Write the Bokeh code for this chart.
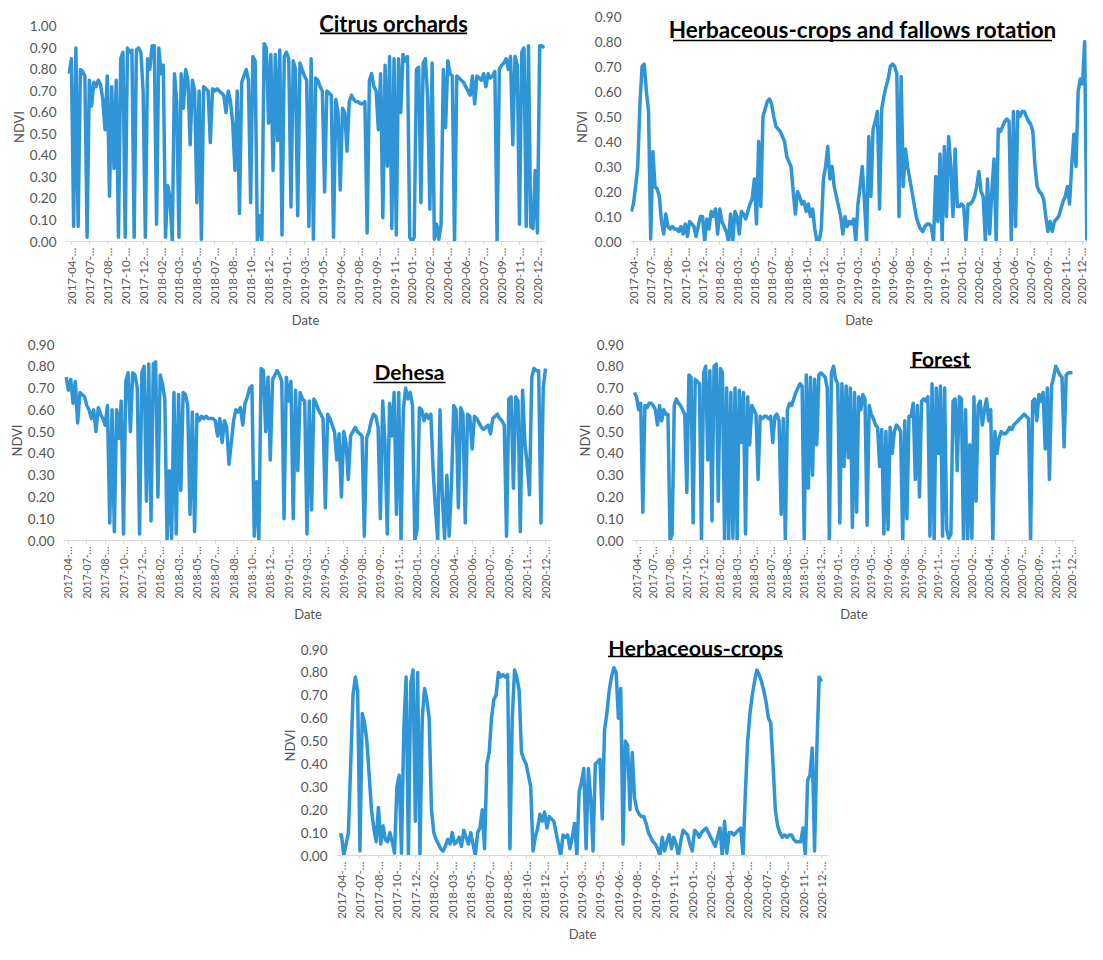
import numpy as np
from bokeh.plotting import figure
from bokeh.layouts import column, row, Spacer
from bokeh.models import FixedTicker, Label, BoxAnnotation, NumeralTickFormatter, Range1d
from bokeh.embed import file_html
from bokeh.resources import INLINE

# ---------------- data ----------------
tick_labels = [
    "2017-04-…", "2017-07-…", "2017-08-…", "2017-10-…", "2017-12-…",
    "2018-02-…", "2018-03-…", "2018-05-…", "2018-07-…", "2018-08-…",
    "2018-10-…", "2018-12-…", "2019-01-…", "2019-03-…", "2019-05-…",
    "2019-06-…", "2019-08-…", "2019-09-…", "2019-11-…", "2020-01-…",
    "2020-02-…", "2020-04-…", "2020-06-…", "2020-07-…", "2020-09-…",
    "2020-11-…", "2020-12-…",
]

citrus_ndvi = [
    0.78,
    0.85, 0.07, 0.90, 0.07, 0.80, 0.79, 0.77, 0.02,
    0.75, 0.63, 0.74, 0.72, 0.75, 0.73, 0.66, 0.52,
    0.77, 0.21, 0.72, 0.34, 0.75, 0.02, 0.85, 0.88,
    0.02, 0.90, 0.88, 0.89, 0.02, 0.89, 0.90, 0.88,
    0.70, 0.02, 0.85, 0.80, 0.91, 0.91, 0.08, 0.90,
    0.78, 0.82, 0.02, 0.26, 0.20, 0.00, 0.78, 0.65,
    0.02, 0.78, 0.62, 0.80, 0.75, 0.45, 0.75, 0.70,
    0.18, 0.70, 0.01, 0.72, 0.71, 0.70, 0.46, 0.71,
    0.70, 0.71, 0.70, 0.69, 0.68, 0.60, 0.70, 0.65,
    0.55, 0.33, 0.70, 0.13, 0.74, 0.77, 0.80, 0.75,
    0.18, 0.86, 0.84, 0.00, 0.12, 0.00, 0.92, 0.90,
    0.55, 0.87, 0.33, 0.87, 0.47, 0.89, 0.03, 0.86,
    0.88, 0.85, 0.16, 0.84, 0.80, 0.12, 0.83, 0.80,
    0.77, 0.75, 0.07, 0.85, 0.01, 0.76, 0.75, 0.72,
    0.70, 0.23, 0.70, 0.69, 0.68, 0.02, 0.66, 0.60,
    0.24, 0.62, 0.60, 0.42, 0.65, 0.68, 0.66, 0.65,
    0.65, 0.64, 0.64, 0.65, 0.04, 0.75, 0.78, 0.72,
    0.70, 0.52, 0.78, 0.11, 0.82, 0.35, 0.86, 0.06,
    0.85, 0.03, 0.85, 0.60, 0.87, 0.84, 0.86, 0.02,
    0.00, 0.02, 0.80, 0.81, 0.18, 0.83, 0.85, 0.67,
    0.15, 0.83, 0.01, 0.08, 0.01, 0.08, 0.80, 0.53,
    0.84, 0.78, 0.77, 0.00, 0.77, 0.76, 0.75, 0.74,
    0.72, 0.70, 0.68, 0.77, 0.64, 0.77, 0.76, 0.75,
    0.78, 0.72, 0.78, 0.76, 0.77, 0.79, 0.00, 0.80,
    0.82, 0.83, 0.85, 0.80, 0.86, 0.45, 0.86, 0.82,
    0.08, 0.88, 0.90, 0.07, 0.91, 0.07, 0.06, 0.33,
    0.04, 0.91, 0.91, 0.90,
]

fallow_ndvi = [
    0.12,
    0.15, 0.22, 0.30, 0.55, 0.70, 0.71, 0.60, 0.52,
    0.01, 0.36, 0.22, 0.21, 0.18, 0.08, 0.03, 0.11,
    0.06, 0.05, 0.06, 0.05, 0.05, 0.04, 0.06, 0.03,
    0.07, 0.02, 0.08, 0.07, 0.06, 0.02, 0.06, 0.10,
    0.10, 0.00, 0.09, 0.05, 0.12, 0.10, 0.13, 0.03,
    0.13, 0.08, 0.06, 0.04, 0.00, 0.11, 0.00, 0.12,
    0.10, 0.03, 0.12, 0.11, 0.09, 0.12, 0.15, 0.17,
    0.25, 0.07, 0.40, 0.14, 0.50, 0.53, 0.56, 0.57,
    0.55, 0.50, 0.46, 0.45, 0.44, 0.42, 0.40, 0.34,
    0.32, 0.30, 0.20, 0.11, 0.20, 0.18, 0.15, 0.16,
    0.12, 0.15, 0.10, 0.13, 0.05, 0.00, 0.00, 0.05,
    0.25, 0.30, 0.38, 0.25, 0.30, 0.22, 0.18, 0.14,
    0.10, 0.03, 0.10, 0.06, 0.08, 0.07, 0.09, 0.00,
    0.15, 0.22, 0.30, 0.16, 0.00, 0.42, 0.18, 0.45,
    0.48, 0.52, 0.13, 0.53, 0.58, 0.62, 0.65, 0.70,
    0.71, 0.70, 0.67, 0.10, 0.66, 0.22, 0.37, 0.30,
    0.25, 0.20, 0.15, 0.10, 0.07, 0.05, 0.04, 0.06,
    0.07, 0.07, 0.06, 0.00, 0.26, 0.08, 0.35, 0.00,
    0.38, 0.10, 0.42, 0.30, 0.10, 0.37, 0.14, 0.14,
    0.15, 0.14, 0.00, 0.15, 0.15, 0.16, 0.18, 0.22,
    0.28, 0.20, 0.18, 0.00, 0.25, 0.03, 0.20, 0.33,
    0.00, 0.45, 0.44, 0.46, 0.48, 0.49, 0.48, 0.00,
    0.52, 0.06, 0.52, 0.50, 0.52, 0.52, 0.50, 0.48,
    0.47, 0.44, 0.30, 0.22, 0.20, 0.19, 0.17, 0.10,
    0.04, 0.08, 0.04, 0.08, 0.09, 0.10, 0.13, 0.16,
    0.18, 0.22, 0.15, 0.30, 0.43, 0.30, 0.60, 0.65,
    0.63, 0.80, 0.01, 0.02,
]

dehesa_ndvi = [
    0.75,
    0.69, 0.74, 0.63, 0.73, 0.54, 0.68, 0.67, 0.66,
    0.62, 0.60, 0.56, 0.60, 0.50, 0.61, 0.58, 0.56,
    0.53, 0.62, 0.08, 0.60, 0.04, 0.60, 0.47, 0.64,
    0.03, 0.73, 0.77, 0.50, 0.77, 0.76, 0.70, 0.03,
    0.77, 0.80, 0.18, 0.81, 0.09, 0.81, 0.82, 0.20,
    0.76, 0.72, 0.65, 0.00, 0.32, 0.01, 0.68, 0.03,
    0.67, 0.23, 0.68, 0.67, 0.62, 0.12, 0.59, 0.04,
    0.58, 0.55, 0.57, 0.56, 0.57, 0.56, 0.56, 0.56,
    0.55, 0.48, 0.56, 0.45, 0.55, 0.52, 0.35, 0.45,
    0.55, 0.60, 0.59, 0.61, 0.53, 0.63, 0.66, 0.70,
    0.71, 0.02, 0.27, 0.00, 0.79, 0.78, 0.50, 0.75,
    0.37, 0.74, 0.76, 0.78, 0.76, 0.73, 0.10, 0.75,
    0.64, 0.73, 0.10, 0.69, 0.32, 0.68, 0.65, 0.64,
    0.03, 0.64, 0.14, 0.65, 0.63, 0.60, 0.58, 0.56,
    0.15, 0.58, 0.56, 0.53, 0.50, 0.37, 0.49, 0.20,
    0.50, 0.45, 0.28, 0.48, 0.50, 0.52, 0.50, 0.49,
    0.48, 0.02, 0.47, 0.50, 0.55, 0.58, 0.57, 0.52,
    0.10, 0.64, 0.45, 0.03, 0.63, 0.48, 0.68, 0.12,
    0.68, 0.00, 0.60, 0.70, 0.65, 0.68, 0.62, 0.00,
    0.05, 0.61, 0.60, 0.55, 0.58, 0.56, 0.58, 0.32,
    0.15, 0.00, 0.60, 0.20, 0.01, 0.30, 0.02, 0.26,
    0.62, 0.60, 0.15, 0.61, 0.58, 0.08, 0.58, 0.57,
    0.42, 0.57, 0.56, 0.54, 0.52, 0.51, 0.52, 0.53,
    0.49, 0.56, 0.57, 0.58, 0.56, 0.55, 0.53, 0.02,
    0.65, 0.66, 0.24, 0.66, 0.64, 0.04, 0.69, 0.45,
    0.35, 0.21, 0.75, 0.79, 0.78, 0.78, 0.08, 0.70,
    0.79,
]

forest_ndvi = [
    0.68,
    0.66, 0.60, 0.63, 0.13, 0.62, 0.61, 0.63, 0.63,
    0.62, 0.60, 0.53, 0.62, 0.55, 0.60, 0.58, 0.58,
    0.00, 0.03, 0.62, 0.65, 0.63, 0.62, 0.60, 0.58,
    0.22, 0.76, 0.75, 0.08, 0.74, 0.73, 0.72, 0.00,
    0.77, 0.80, 0.37, 0.78, 0.09, 0.80, 0.81, 0.18,
    0.79, 0.77, 0.00, 0.70, 0.00, 0.68, 0.01, 0.70,
    0.00, 0.69, 0.45, 0.68, 0.03, 0.66, 0.44, 0.62,
    0.60, 0.58, 0.28, 0.57, 0.56, 0.57, 0.57, 0.56,
    0.57, 0.45, 0.57, 0.58, 0.55, 0.12, 0.56, 0.00,
    0.60, 0.63, 0.62, 0.65, 0.68, 0.70, 0.72, 0.71,
    0.00, 0.76, 0.24, 0.75, 0.30, 0.74, 0.44, 0.76,
    0.77, 0.76, 0.75, 0.70, 0.00, 0.77, 0.80, 0.74,
    0.72, 0.08, 0.72, 0.34, 0.71, 0.38, 0.70, 0.06,
    0.68, 0.13, 0.66, 0.60, 0.67, 0.65, 0.07, 0.62,
    0.58, 0.56, 0.53, 0.52, 0.34, 0.51, 0.03, 0.50,
    0.05, 0.52, 0.40, 0.50, 0.53, 0.52, 0.50, 0.00,
    0.55, 0.10, 0.57, 0.57, 0.63, 0.28, 0.62, 0.20,
    0.64, 0.65, 0.64, 0.66, 0.02, 0.72, 0.00, 0.70,
    0.40, 0.71, 0.02, 0.70, 0.05, 0.01, 0.03, 0.64,
    0.65, 0.32, 0.66, 0.65, 0.00, 0.60, 0.00, 0.44,
    0.01, 0.66, 0.18, 0.62, 0.64, 0.53, 0.60, 0.65,
    0.55, 0.60, 0.00, 0.50, 0.40, 0.47, 0.50, 0.49,
    0.49, 0.50, 0.52, 0.51, 0.53, 0.54, 0.55, 0.56,
    0.57, 0.58, 0.57, 0.56, 0.00, 0.64, 0.65, 0.55,
    0.67, 0.64, 0.68, 0.42, 0.70, 0.28, 0.71, 0.75,
    0.80, 0.78, 0.76, 0.75, 0.43, 0.76, 0.77, 0.77,
    0.77,
]

herb_ndvi = [
    0.09,
    0.09, 0.00, 0.05, 0.10, 0.40, 0.70, 0.78, 0.72,
    0.02, 0.62, 0.58, 0.50, 0.35, 0.20, 0.12, 0.06,
    0.21, 0.05, 0.13, 0.07, 0.06, 0.10, 0.06, 0.01,
    0.30, 0.35, 0.01, 0.55, 0.78, 0.00, 0.75, 0.81,
    0.15, 0.80, 0.00, 0.60, 0.73, 0.68, 0.60, 0.20,
    0.10, 0.07, 0.05, 0.03, 0.02, 0.04, 0.07, 0.05,
    0.10, 0.05, 0.06, 0.08, 0.04, 0.11, 0.08, 0.05,
    0.10, 0.05, 0.00, 0.10, 0.12, 0.20, 0.03, 0.40,
    0.45, 0.60, 0.68, 0.70, 0.80, 0.78, 0.79, 0.78,
    0.79, 0.03, 0.60, 0.81, 0.78, 0.72, 0.45, 0.42,
    0.40, 0.35, 0.30, 0.02, 0.08, 0.12, 0.18, 0.15,
    0.19, 0.12, 0.17, 0.16, 0.15, 0.10, 0.05, 0.00,
    0.09, 0.08, 0.09, 0.03, 0.08, 0.14, 0.00, 0.28,
    0.32, 0.38, 0.03, 0.38, 0.25, 0.02, 0.40, 0.41,
    0.42, 0.16, 0.55, 0.62, 0.72, 0.78, 0.82, 0.80,
    0.60, 0.73, 0.05, 0.50, 0.48, 0.20, 0.45, 0.25,
    0.20, 0.18, 0.17, 0.17, 0.14, 0.10, 0.08, 0.06,
    0.05, 0.03, 0.00, 0.08, 0.02, 0.06, 0.09, 0.03,
    0.08, 0.05, 0.00, 0.06, 0.11, 0.10, 0.09, 0.05,
    0.02, 0.11, 0.10, 0.08, 0.10, 0.11, 0.12, 0.10,
    0.08, 0.06, 0.04, 0.08, 0.12, 0.00, 0.15, 0.01,
    0.10, 0.10, 0.09, 0.10, 0.11, 0.12, 0.00, 0.27,
    0.50, 0.62, 0.70, 0.76, 0.81, 0.79, 0.76, 0.72,
    0.67, 0.60, 0.58, 0.40, 0.20, 0.13, 0.10, 0.08,
    0.09, 0.08, 0.09, 0.09, 0.07, 0.06, 0.06, 0.06,
    0.12, 0.00, 0.33, 0.35, 0.47, 0.02, 0.47, 0.78,
    0.76,
]

# ---------------- styling ----------------
FONT = "Lato"
LINE_COLOR = "#2f95d6"
TEXT_COLOR = "#555555"
SLOTS_PER_TICK = 8


def panel(values, title, ymax, width, height, bl, br, data_top, bb, pad, xr,
          title_px, ul_y, ul_w, tsize, xlab_size, ylab_standoff):
    """data_top: px from figure top where ymax sits; pad: empty px above it."""
    bt = data_top - pad
    fh = height - bt - bb          # frame height incl. pad
    H = fh - pad                   # px used by 0..ymax
    y_end = ymax * fh / H
    p = figure(width=width, height=height, output_backend="svg",
               toolbar_location=None,
               x_range=Range1d(*xr), y_range=Range1d(0, y_end),
               min_border_left=bl, min_border_right=br,
               min_border_top=bt, min_border_bottom=bb)
    p.outline_line_color = None
    p.background_fill_color = "white"
    p.border_fill_color = "white"
    p.xgrid.grid_line_color = None
    p.ygrid.grid_line_color = None

    x = (np.arange(len(values)) - 1) / SLOTS_PER_TICK
    p.line(x, values, line_width=3.5, color=LINE_COLOR, line_join="round")

    # y axis
    yt = [round(i * 0.1, 2) for i in range(int(round(ymax * 10)) + 1)]
    p.yaxis.ticker = FixedTicker(ticks=yt)
    p.yaxis.formatter = NumeralTickFormatter(format="0.00")
    p.yaxis.axis_line_color = None
    p.yaxis.major_tick_line_color = None
    p.yaxis.minor_tick_line_color = None
    p.yaxis.major_tick_out = 0
    p.yaxis.major_tick_in = 0
    p.yaxis.major_label_standoff = 9
    p.yaxis.major_label_text_font = FONT
    p.yaxis.major_label_text_font_size = "13.5px"
    p.yaxis.major_label_text_color = TEXT_COLOR
    p.yaxis.axis_label = "NDVI"
    p.yaxis.axis_label_text_font = FONT
    p.yaxis.axis_label_text_font_size = "13px"
    p.yaxis.axis_label_text_font_style = "normal"
    p.yaxis.axis_label_text_color = TEXT_COLOR
    p.yaxis.axis_label_standoff = ylab_standoff

    # x axis
    p.xaxis.ticker = FixedTicker(ticks=list(range(len(tick_labels))))
    p.xaxis.major_label_overrides = {i: lab for i, lab in enumerate(tick_labels)}
    p.xaxis.major_label_orientation = np.pi / 2
    p.xaxis.axis_line_color = "#d9d9d9"
    p.xaxis.major_tick_line_color = "#d9d9d9"
    p.xaxis.minor_tick_line_color = None
    p.xaxis.major_tick_out = 3
    p.xaxis.major_tick_in = 0
    p.xaxis.major_label_standoff = 3
    p.xaxis.major_label_text_font = FONT
    p.xaxis.major_label_text_font_size = xlab_size
    p.xaxis.major_label_text_color = TEXT_COLOR
    p.xaxis.axis_label = "Date"
    p.xaxis.axis_label_text_font = FONT
    p.xaxis.axis_label_text_font_size = "13px"
    p.xaxis.axis_label_text_font_style = "normal"
    p.xaxis.axis_label_text_color = TEXT_COLOR
    p.xaxis.axis_label_standoff = 4

    # title with underline (given in px relative to the figure's top-left)
    k = (width - bl - br) / (xr[1] - xr[0])

    def to_x(px):
        return xr[0] + (px - bl) / k

    def to_y(py):
        return ymax * (height - bb - py) / H

    tx, ty = title_px
    p.add_layout(Label(x=to_x(tx), y=to_y(ty), text=title, text_font=FONT,
                       text_font_size=tsize, text_font_style="bold",
                       text_color="black", text_align="center",
                       text_baseline="middle"))
    p.add_layout(BoxAnnotation(left=to_x(tx - ul_w / 2), right=to_x(tx + ul_w / 2),
                               top=to_y(ul_y - 0.8), bottom=to_y(ul_y + 0.8),
                               fill_color="black", fill_alpha=1.0,
                               line_color=None))
    return p


# row 1 : y 0..330
p1 = panel(citrus_ndvi, "Citrus orchards", 1.0, 565, 330, 65, 20, 25, 89, 14,
           (-0.33, 26.45), (393, 22), 32, 147, "22px", "11.5px", 0)
p2 = panel(fallow_ndvi, "Herbaceous-crops and fallows rotation", 0.9, 522, 330,
           65, 0, 16, 89, 4, (-0.17, 26.29), (297, 29), 40, 379, "22.5px",
           "11.5px", 2)
# row 2 : y 330..624
p3 = panel(dehesa_ndvi, "Dehesa", 0.9, 565, 294, 63, 13, 14, 84, 4,
           (-0.27, 26.38), (409, 41), 52, 72, "21px", "10.5px", 0)
p4 = panel(forest_ndvi, "Forest", 0.9, 522, 294, 67, 12, 14, 84, 4,
           (-0.24, 26.18), (375, 28), 37, 61, "21px", "10.5px", 1)
# row 3 : y 624..944
p5 = panel(herb_ndvi, "Herbaceous-crops", 0.9, 570, 320, 66, 12, 25, 89, 14,
           (-0.27, 26.38), (425, 23), 32, 175, "21.5px", "11.5px", 0)

layout = column(row(p1, p2), row(p3, p4),
                row(Spacer(width=270, height=320), p5))

open("out.html", "w").write(file_html(layout, INLINE))
